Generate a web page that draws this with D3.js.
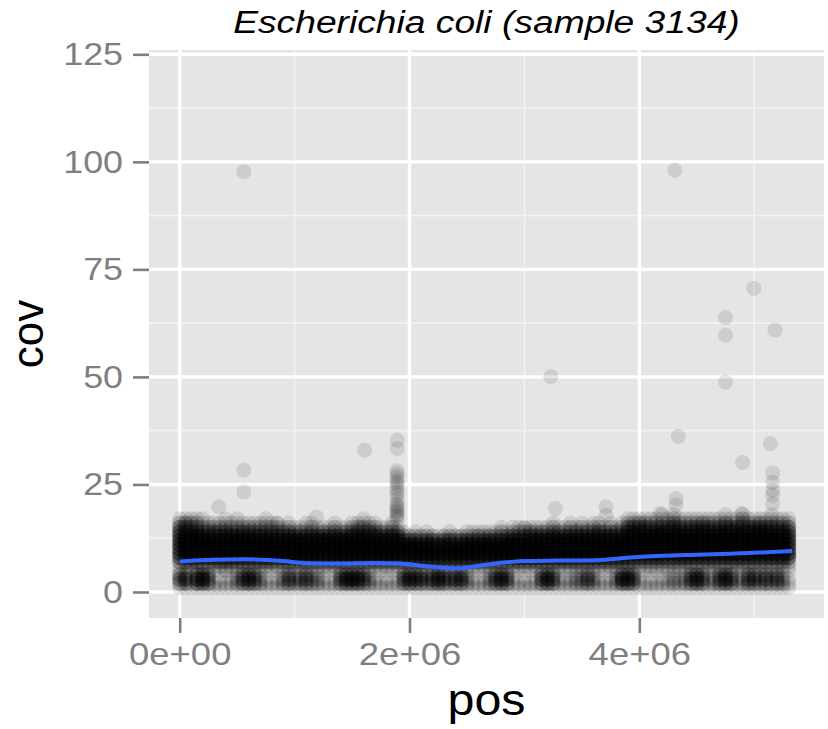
<!DOCTYPE html>
<html>
<head>
<meta charset="utf-8">
<script src="https://cdn.jsdelivr.net/npm/d3@7"></script>
<style>
  body { margin: 0; background: #fff; }
  text { font-family: "Liberation Sans", Arial, sans-serif; }
</style>
</head>
<body>
<div id="chart"></div>
<script>
// coverage in 50 kb bins: char i of a string = number of 1 kb windows whose cov is ~ i+1
var binKb = [0, 50, 100, 150, 200, 250, 300, 350, 400, 450, 500, 550, 600, 650, 700, 750, 800, 850, 900, 950,
  1000, 1050, 1100, 1150, 1200, 1250, 1300, 1350, 1400, 1450, 1500, 1550, 1600, 1650, 1700, 1750, 1800, 1850, 1900, 1950,
  2000, 2050, 2100, 2150, 2200, 2250, 2300, 2350, 2400, 2450, 2500, 2550, 2600, 2650, 2700, 2750, 2800, 2850, 2900, 2950,
  3000, 3050, 3100, 3150, 3200, 3250, 3300, 3350, 3400, 3450, 3500, 3550, 3600, 3650, 3700, 3750, 3800, 3850, 3900, 3950,
  4000, 4050, 4100, 4150, 4200, 4250, 4300, 4350, 4400, 4450, 4500, 4550, 4600, 4650, 4700, 4750, 4800, 4850, 4900, 4950,
  5000, 5050, 5100, 5150, 5200, 5250, 5300];

var binCounts = [
  "134311356666654210", "135311346667654310", "111011356666643210", "146411356666653210", "147411356666532110",
  "134311256666542100", "110011356666532100", "111011346665532100", "110021356666542110", "111011356666532100",
  "122111356666532100", "134311356666542100", "146411356666532100", "134311346666532100", "122111356665532100",
  "111011356666532110", "110011356666432100", "111011256666532100", "122111356666431000", "134311356666532100",
  "122111356666421000", "123111356666431000", "134311356666421100", "122111356666532100", "122111346666421000",
  "111011356666431000", "110011356666421000", "111011356666532100", "134311356666421000", "146411356666431000",
  "147411356666532100", "146411356666542100", "134311356666532110", "122111356666542100", "111011356666532100",
  "110011356666431000", "111011356666421000", "110011356666532100", "111011356666431000", "134311356664210000",
  "146411356664200000", "134311356664210000", "135311356653200000", "122111356664210000", "134311356554200000",
  "146411356553100000", "134311356554200000", "123111356654210000", "134311356653200000", "135311356654200000",
  "122111356664210000", "111011356664210000", "110011356664310000", "111011356664210000", "122111356665310000",
  "134311356664210000", "146411356665321000", "134311356665310000", "111011356666421000", "110011356665321000",
  "111011356666421000", "110011356666431000", "111011356666421000", "134311356666431000", "146411356666421000",
  "134311356666532100", "111011356666431000", "111011356666421000", "111011356666532100", "122111356666431000",
  "122111356666532100", "134311356666431000", "122111356666532100", "111011356666542100", "110011356666431000",
  "111011356666532100", "122111356666431000", "147411356666532100", "146411356666654210", "134311346666654210",
  "111011256666654310", "110011256666654210", "111011256666643210", "110011256666654210", "111011256666654211",
  "111011246666654210", "122111256666654321", "111011256666654210", "122111256666643210", "134311256666654210",
  "146411256666654210", "134311256666654310", "111011256666654210", "122111256666643210", "134311256666654210",
  "146411256666654311", "134311256666654210", "111011256666654210", "122111256666654321", "134311256666654210",
  "134311256666654210", "122111256666654310", "134311256666654210", "122111256666654211", "134311256666654210",
  "122111256666643210", "111011256666654210"];

// single windows standing out of the band (pos in Mb)
var outlierPos = [0.558, 0.558, 0.558, 0.34, 0.5, 0.85, 1.19, 1.58, 1.61,
  1.894, 1.894, 1.89, 1.894, 1.89, 1.894, 1.89, 1.894, 1.89, 1.894, 1.89, 1.894, 1.89, 1.894, 1.89, 1.894, 1.89, 1.894, 1.89, 1.894,
  3.0, 3.23, 3.27, 3.71, 3.71, 4.18, 4.31, 4.32, 4.32, 4.34, 4.75, 4.75, 4.75, 4.89, 4.9, 4.997,
  5.14, 5.16, 5.16, 5.16, 5.16, 5.16, 5.18];
var outlierCov = [97.7, 28.3, 23.3, 19.8, 17.0, 15.9, 17.4, 15.1, 33.0,
  35.3, 33.3, 28.2, 27.5, 26.8, 26.0, 25.5, 24.8, 24.0, 23.2, 22.5, 21.5, 20.5, 20.0, 19.5, 19.0, 18.5, 18.0, 17.5, 17.0,
  14.8, 50.1, 19.4, 19.8, 17.8, 18.2, 98.1, 21.7, 20.2, 36.2, 63.8, 59.7, 48.8, 18.2, 30.1, 70.6,
  34.5, 27.7, 25.5, 23.7, 22.5, 20.5, 60.9];

// loess smooth
var smoothPos = [0, 0.3, 0.55, 0.9, 1.1, 1.4, 1.68, 1.92, 2.1, 2.27, 2.4, 2.6, 2.85, 3.0, 3.3, 3.63, 3.92, 4.2, 4.5, 4.79, 5.05, 5.33];
var smoothCov = [7.1, 7.5, 7.6, 7.2, 6.7, 6.6, 6.75, 6.6, 6.1, 5.7, 5.45, 6.1, 6.9, 7.2, 7.3, 7.4, 8.0, 8.4, 8.65, 8.9, 9.15, 9.5];

var xTicks = [0, 2e6, 4e6];
var xTickLabels = ["0e+00", "2e+06", "4e+06"];
var xMinor = [1e6, 3e6, 5e6];
var yTicks = [0, 25, 50, 75, 100, 125];
var yMinor = [12.5, 37.5, 62.5, 87.5, 112.5];

var width = 828, height = 729;
var panel = {left: 149, right: 824, top: 50, bottom: 618};

var svg = d3.select("#chart").append("svg")
    .attr("width", width)
    .attr("height", height);

var x = d3.scaleLinear().domain([-0.267e6, 5.607e6]).range([panel.left, panel.right]);
var y = d3.scaleLinear().domain([-6.05, 126.0]).range([panel.bottom, panel.top]);

// the source picture is a bit wider than tall, so text is stretched sideways
function widen(sel, k) {
  sel.each(function() {
    var w = this.getComputedTextLength();
    d3.select(this).attr("textLength", w * k).attr("lengthAdjust", "spacingAndGlyphs");
  });
}

// panel background + grid
svg.append("rect")
    .attr("x", panel.left).attr("y", panel.top)
    .attr("width", panel.right - panel.left).attr("height", panel.bottom - panel.top)
    .attr("fill", "#e5e5e5");

var grid = svg.append("g");
grid.selectAll(".xminor").data(xMinor).enter().append("line")
    .attr("x1", function(d) { return x(d); }).attr("x2", function(d) { return x(d); })
    .attr("y1", panel.top).attr("y2", panel.bottom)
    .attr("stroke", "#f2f2f2").attr("stroke-width", 1.7);
grid.selectAll(".yminor").data(yMinor).enter().append("line")
    .attr("y1", function(d) { return y(d); }).attr("y2", function(d) { return y(d); })
    .attr("x1", panel.left).attr("x2", panel.right)
    .attr("stroke", "#f2f2f2").attr("stroke-width", 1.7);
grid.selectAll(".xmajor").data(xTicks).enter().append("line")
    .attr("x1", function(d) { return x(d); }).attr("x2", function(d) { return x(d); })
    .attr("y1", panel.top).attr("y2", panel.bottom)
    .attr("stroke", "#fff").attr("stroke-width", 3.4);
grid.selectAll(".ymajor").data(yTicks).enter().append("line")
    .attr("y1", function(d) { return y(d); }).attr("y2", function(d) { return y(d); })
    .attr("x1", panel.left).attr("x2", panel.right)
    .attr("stroke", "#fff").attr("stroke-width", 3.4);

// points: each record stands for n stacked windows drawn at alpha 0.1
var pts = [];
binKb.forEach(function(kb, i) {
  binCounts[i].split("").forEach(function(c, j) {
    var n = parseInt(c, 36);
    if (n > 0) pts.push({pos: kb * 1000, cov: j + 1, n: n});
  });
});
outlierPos.forEach(function(p, i) {
  pts.push({pos: p * 1e6, cov: outlierCov[i], n: 1});
});

svg.append("g")
  .selectAll("circle")
  .data(pts)
  .enter()
  .append("circle")
    .attr("cx", function(d) { return x(d.pos); })
    .attr("cy", function(d) { return y(d.cov); })
    .attr("r", 7.6)
    .attr("fill", "#000")
    .attr("fill-opacity", function(d) { return 1 - Math.pow(0.9, d.n); });

// smooth line
var line = d3.line()
    .x(function(d, i) { return x(smoothPos[i] * 1e6); })
    .y(function(d) { return y(d); })
    .curve(d3.curveMonotoneX);
svg.append("path")
    .attr("d", line(smoothCov))
    .attr("fill", "none")
    .attr("stroke", "#3366ff")
    .attr("stroke-width", 4);

// axes
var xAxis = d3.axisBottom(x).tickValues(xTicks)
    .tickFormat(function(d, i) { return xTickLabels[i]; })
    .tickSize(15).tickPadding(9);
var gx = svg.append("g").attr("transform", "translate(0," + panel.bottom + ")").call(xAxis);
gx.select(".domain").remove();
gx.selectAll("line").attr("stroke", "#7f7f7f").attr("stroke-width", 2.6);
gx.selectAll("text").attr("fill", "#7f7f7f").style("font-size", "32px")
    .style("font-family", "'Liberation Sans', Arial, sans-serif");
widen(gx.selectAll("text"), 1.14);

var yAxis = d3.axisLeft(y).tickValues(yTicks).tickSize(16).tickPadding(10);
var gy = svg.append("g").attr("transform", "translate(" + panel.left + ",0)").call(yAxis);
gy.select(".domain").remove();
gy.selectAll("line").attr("stroke", "#7f7f7f").attr("stroke-width", 2.6);
gy.selectAll("text").attr("fill", "#7f7f7f").style("font-size", "32px")
    .style("font-family", "'Liberation Sans', Arial, sans-serif");
widen(gy.selectAll("text"), 1.12);

// titles
var title = svg.append("text")
    .attr("x", (panel.left + panel.right) / 2).attr("y", 33)
    .attr("text-anchor", "middle")
    .style("font-size", "31px").style("font-style", "italic")
    .text("Escherichia coli (sample 3134)");
widen(title, 1.2);

var xTitle = svg.append("text")
    .attr("x", (panel.left + panel.right) / 2).attr("y", 715)
    .attr("text-anchor", "middle")
    .style("font-size", "44px")
    .text("pos");
widen(xTitle, 1.1);

svg.append("text")
    .attr("transform", "translate(43," + (panel.top + panel.bottom) / 2 + ") rotate(-90)")
    .attr("text-anchor", "middle")
    .style("font-size", "44px")
    .text("cov");
</script>
</body>
</html>
